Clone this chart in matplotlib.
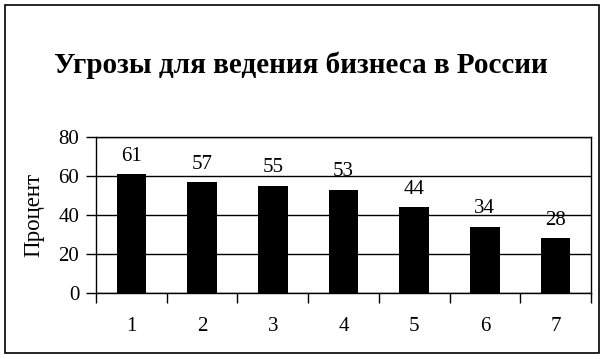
import matplotlib
matplotlib.use('Agg')
import matplotlib.pyplot as plt
from matplotlib.patches import Rectangle

# Data
categories = ['1', '2', '3', '4', '5', '6', '7']
values = [61, 57, 55, 53, 44, 34, 28]
title = 'Угрозы для ведения бизнеса в России'
ylabel = 'Процент'

plt.rcParams['font.family'] = ['Liberation Serif', 'DejaVu Serif']

fig = plt.figure(figsize=(6.05, 3.59), dpi=100)
W, H = 605, 359
ax = fig.add_axes([96 / W, 1 - 293 / H, (591 - 96) / W, (293 - 137) / H])

x = range(len(categories))
bars = ax.bar(x, values, width=0.42, color='black', zorder=3)

for bar, v in zip(bars, values):
    ax.annotate(f'{v}', (bar.get_x() + bar.get_width() / 2, v),
                xytext=(0, 6), textcoords='offset points',
                ha='center', va='bottom', fontsize=15)

ax.set_xlim(-0.5, len(categories) - 0.5)
ax.set_ylim(0, 80)
ax.set_yticks([0, 20, 40, 60, 80])
ax.yaxis.grid(True, color='black', linewidth=1)
ax.set_axisbelow(True)

# category ticks at boundaries, labels centred
ax.set_xticks([i - 0.5 for i in range(len(categories) + 1)])
ax.set_xticklabels([])
ax.set_xticks(list(x), minor=True)
ax.set_xticklabels(categories, minor=True, fontsize=15)
ax.tick_params(axis='x', which='major', length=7, width=1, direction='out')
ax.tick_params(axis='x', which='minor', length=0, pad=17)
ax.tick_params(axis='y', length=7, width=1, labelsize=15, pad=5)

for s in ax.spines.values():
    s.set_linewidth(1)
    s.set_color('black')

ax.set_ylabel(ylabel, fontsize=16.5, labelpad=10)
fig.text(301 / W, 1 - 73 / H, title, ha='center', va='baseline',
         fontsize=21, fontweight='bold')

# outer frame
fig.patches.append(Rectangle((5 / W, 1 - 353 / H), (599 - 5) / W, (353 - 5) / H,
                             transform=fig.transFigure, fill=False,
                             edgecolor='black', linewidth=1.2))

fig.savefig('out.png', dpi=100)
